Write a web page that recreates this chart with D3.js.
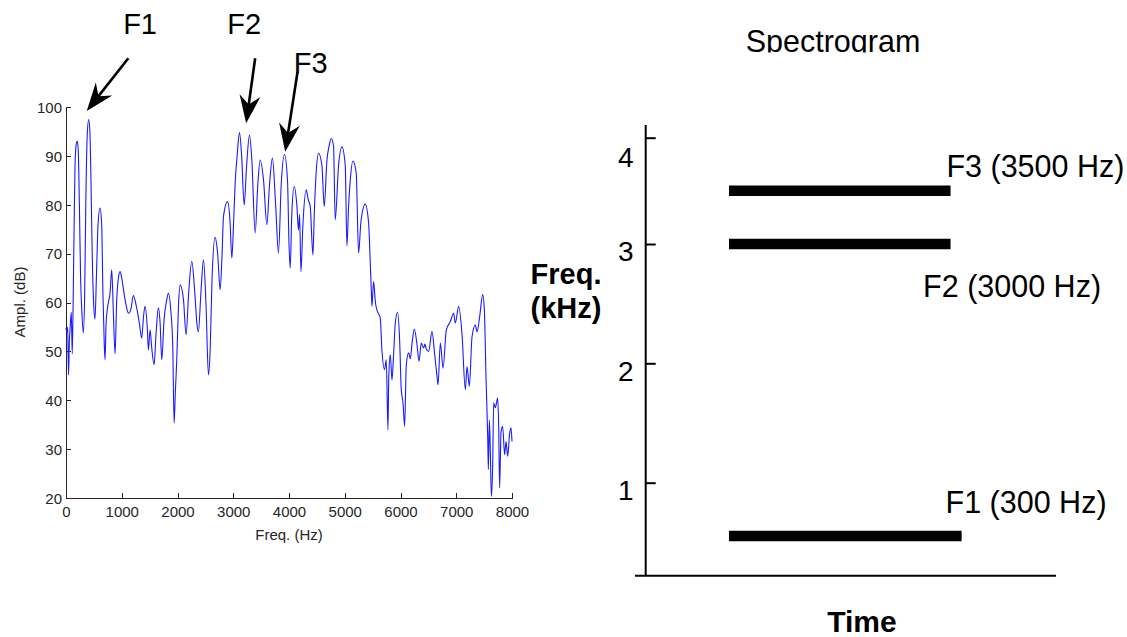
<!DOCTYPE html>
<html><head><meta charset="utf-8">
<script src="https://cdn.jsdelivr.net/npm/d3@7"></script>
<style>
body{margin:0;background:#fff}
svg{display:block}
text{font-family:"Liberation Sans",Arial,Helvetica,sans-serif}
</style>
</head><body>
<svg id="chart" width="1127" height="637"></svg>
<script>
// ---------- Data: spectrum (left panel) ----------
const freqHz = [0,15,30,45,60,75,95,112,128,145,162,185,203,220,240,262,285,311,335,355,380,407,428,448,470,495,520,545,575,610,640,662,685,700,719,737,760,790,820,850,880,910,940,970,1000,1041,1077,1119,1161,1208,1268,1316,1358,1390,1418,1460,1478,1508,1538,1580,1616,1657,1688,1718,1759,1808,1837,1879,1915,1939,1963,1987,2017,2047,2107,2154,2200,2256,2310,2346,2375,2420,2466,2510,2555,2585,2620,2675,2720,2765,2800,2825,2897,2940,2975,3005,3034,3070,3112,3150,3196,3240,3291,3334,3393,3440,3483,3543,3603,3650,3703,3760,3811,3860,3919,3973,4000,4022,4050,4093,4140,4170,4190,4214,4250,4309,4345,4381,4429,4453,4490,4530,4590,4632,4680,4720,4757,4799,4829,4889,4949,5009,5039,5070,5099,5147,5206,5248,5290,5368,5428,5458,5475,5488,5517,5550,5577,5637,5667,5714,5745,5775,5790,5817,5847,5876,5906,5948,5984,6014,6045,6074,6104,6146,6176,6210,6248,6296,6332,6373,6415,6440,6463,6505,6565,6612,6655,6673,6715,6763,6822,6894,6953,6984,7043,7104,7163,7193,7235,7283,7343,7373,7420,7474,7504,7535,7564,7576,7594,7612,7630,7653,7671,7701,7742,7760,7778,7803,7832,7868,7893,7922,7958,7983,8000];
const amplDb = [54.8,54,55,45.2,52,55,58,49.5,60,75,88,92.5,93,91,80,65,58,53.8,62,80,94,97.4,95,85,70,60,56.6,65,76,79.3,76,62,52,48.3,55.8,58.2,60,61.9,66.7,57.8,49.5,60.6,65,66.3,65,61.9,59.5,57.8,58.5,61.4,58.9,55.8,52.7,57.1,59.2,54.4,50.3,54.4,50.7,47.3,53.8,58.9,55.8,48.3,56.5,60.6,61.9,58.5,51,35.4,42.2,48.3,59.2,63.6,60.6,53.4,61.9,68.4,62,56,54,62,68.7,60,45.2,50,65,73.3,70,62.6,70,77.6,80.6,77,69.1,76,84.4,90,94.7,90,79.9,88,94.2,89,74.2,84,89.1,85,75.9,84,89.5,80,70.1,84,90.3,85,72,67,78,83.7,80,74.8,78,66.3,76,83,81,79.6,69.7,78,87,90.5,88,79.6,89,92,93.5,92,76.9,88,91.8,88,71.6,80,85,88.9,86.4,70.1,76.5,80.1,76.2,68,63,59.2,64.3,60,58.5,56.8,50.3,46.3,48.3,34,45,49.3,44.2,49.3,55.7,58,52.4,42.2,39.5,34.7,47.3,49.7,48.5,52,54.6,51.4,48,51.7,50.7,51.5,50.5,50,54.1,49.5,44.9,43.2,51.7,46.6,54.4,56.1,57.8,55.8,59.2,53.4,42.2,46.9,42.9,53,55.4,54,57.1,61.6,58.5,44.2,32.7,25.9,36,29.3,20.4,26.5,39.5,38.5,40.5,35.4,22.1,33.5,34.7,28.9,31.6,28.6,33.3,34.4,31.6];
const ampTicks = [20,30,40,50,60,70,80,90,100];
const freqTicks = [0,1000,2000,3000,4000,5000,6000,7000,8000];

// formant arrows on the spectrum (data units: Hz, dB)
const arrowNames  = ["F1","F2","F3"];
const arrowTipHz  = [372, 3231, 3932];
const arrowTipDb  = [99.1, 96.6, 90.8];
const arrowTailHz = [1118, 3393, 4153];
const arrowTailDb = [109.9, 109.9, 107.1];
const arrowLabelHz = [1329, 3196, 4390];
const arrowLabelDb = [114.9, 114.9, 106.9];

// ---------- Data: schematic spectrogram (right panel) ----------
const bandNames  = ["F1 (300 Hz)","F2 (3000 Hz)","F3 (3500 Hz)"];
const bandKHz    = [0.3, 3.0, 3.5];
const bandStart  = [2.03, 2.03, 2.03];
const bandEnd    = [7.70, 7.43, 7.43];
const kHzTicks   = [1,2,3,4];

const svg = d3.select("#chart");

// ================= LEFT PANEL =================
const xF = d3.scaleLinear().domain([0,8000]).range([66,512]);
const yA = d3.scaleLinear().domain([20,100]).range([498.3,106.7]);
const axisCol = "#262626";

const gx = svg.append("g").attr("transform","translate(0,498.3)")
  .call(d3.axisBottom(xF).tickValues(freqTicks).tickSize(-5).tickSizeOuter(0).tickPadding(8).tickFormat(d3.format("d")));
const gy = svg.append("g").attr("transform","translate(66,0)")
  .call(d3.axisLeft(yA).tickValues(ampTicks).tickSize(-5).tickSizeOuter(0).tickPadding(4).tickFormat(d3.format("d")));
[gx,gy].forEach(g=>{
  g.selectAll("path,line").attr("stroke",axisCol).attr("stroke-width",1).attr("shape-rendering","crispEdges");
  g.selectAll("text").attr("fill",axisCol).style("font-size","15px").style("font-family","'Liberation Sans',Arial,sans-serif");
});
gy.selectAll("text").attr("dy","0.36em");

svg.append("text").attr("x",289).attr("y",540).attr("text-anchor","middle")
  .attr("fill",axisCol).style("font-size","15px").text("Freq. (Hz)");
svg.append("text").attr("transform","translate(25,302) rotate(-90)").attr("text-anchor","middle")
  .attr("fill",axisCol).style("font-size","15px").text("Ampl. (dB)");

const pts = freqHz.map((f,i)=>[f,amplDb[i]]);
svg.append("path").datum(pts)
  .attr("fill","none").attr("stroke","#1a1aff").attr("stroke-width",1.1)
  .attr("d", d3.line().x(d=>xF(d[0])).y(d=>yA(d[1])).curve(d3.curveMonotoneX));

// arrows
function arrow(x1,y1,x2,y2){
  const ang = Math.atan2(y2-y1,x2-x1)*180/Math.PI;
  const L = 28, W = 21;
  const len = Math.hypot(x2-x1,y2-y1);
  const g = svg.append("g").attr("transform",`translate(${x2},${y2}) rotate(${ang})`);
  g.append("line").attr("x1",-len).attr("y1",0).attr("x2",-L*0.6).attr("y2",0)
    .attr("stroke","#000").attr("stroke-width",2.6);
  g.append("path").attr("d",`M0,0 L${-L},${-W/2} L${-L*0.68},0 L${-L},${W/2} Z`).attr("fill","#000");
}
arrowNames.forEach((n,i)=>{
  arrow(xF(arrowTailHz[i]),yA(arrowTailDb[i]),xF(arrowTipHz[i]),yA(arrowTipDb[i]));
  svg.append("text").attr("x",xF(arrowLabelHz[i])).attr("y",yA(arrowLabelDb[i]))
    .attr("text-anchor","middle").style("font-size","29px").attr("fill","#000").text(n);
});

// ================= RIGHT PANEL =================
const xT = d3.scaleLinear().domain([0,10]).range([645.7,1056]);
const yK = d3.scaleLinear().domain([0.3,1,2,3,4]).range([536,482.7,363.3,244,137.7]);
const frameTop = 125, frameBottom = 575.7;

svg.append("line").attr("x1",645.7).attr("x2",645.7).attr("y1",frameTop).attr("y2",frameBottom)
  .attr("stroke","#000").attr("stroke-width",2);
svg.append("line").attr("x1",635).attr("x2",xT(10)).attr("y1",frameBottom).attr("y2",frameBottom)
  .attr("stroke","#000").attr("stroke-width",2);

const gk = svg.append("g").attr("transform","translate(645.7,0)")
  .call(d3.axisLeft(yK).tickValues(kHzTicks).tickSize(-10).tickPadding(12).tickFormat(d3.format("d")));
gk.select(".domain").remove();
gk.selectAll("line").attr("stroke","#000").attr("stroke-width",2);
gk.selectAll("text").attr("fill","#000").style("font-size","28px")
  .style("font-family","'Liberation Sans',Arial,sans-serif")
  .attr("dy",d=> d===4 ? "1.02em" : "0.6em");

bandNames.forEach((n,i)=>{
  svg.append("line").attr("x1",xT(bandStart[i])).attr("x2",xT(bandEnd[i]))
    .attr("y1",yK(bandKHz[i])).attr("y2",yK(bandKHz[i]))
    .attr("stroke","#000").attr("stroke-width",10.5);
});
const labelDx = [0, -0.57, 0];
const labelDy = [-22.7, 53, -14];
bandNames.forEach((n,i)=>{
  svg.append("text").attr("x",xT(bandEnd[i]-0.1+labelDx[i]) + (i===0?-12:0))
    .attr("y",yK(bandKHz[i])+labelDy[i])
    .style("font-size","30.5px").attr("fill","#000").text(n);
});

svg.append("defs").append("clipPath").attr("id","titleClip")
  .append("rect").attr("x",600).attr("y",0).attr("width",400).attr("height",52.5);
svg.append("text").attr("x",833).attr("y",52).attr("text-anchor","middle")
  .attr("clip-path","url(#titleClip)").style("font-size","30.5px").attr("fill","#000").text("Spectrogram");

svg.append("text").attr("x",566).attr("y",284).attr("text-anchor","middle")
  .style("font-size","29px").style("font-weight","bold").attr("fill","#000").text("Freq.");
svg.append("text").attr("x",566).attr("y",318).attr("text-anchor","middle")
  .style("font-size","29px").style("font-weight","bold").attr("fill","#000").text("(kHz)");
svg.append("text").attr("x",862).attr("y",632).attr("text-anchor","middle")
  .style("font-size","30px").style("font-weight","bold").attr("fill","#000").text("Time");
</script>
</body></html>
